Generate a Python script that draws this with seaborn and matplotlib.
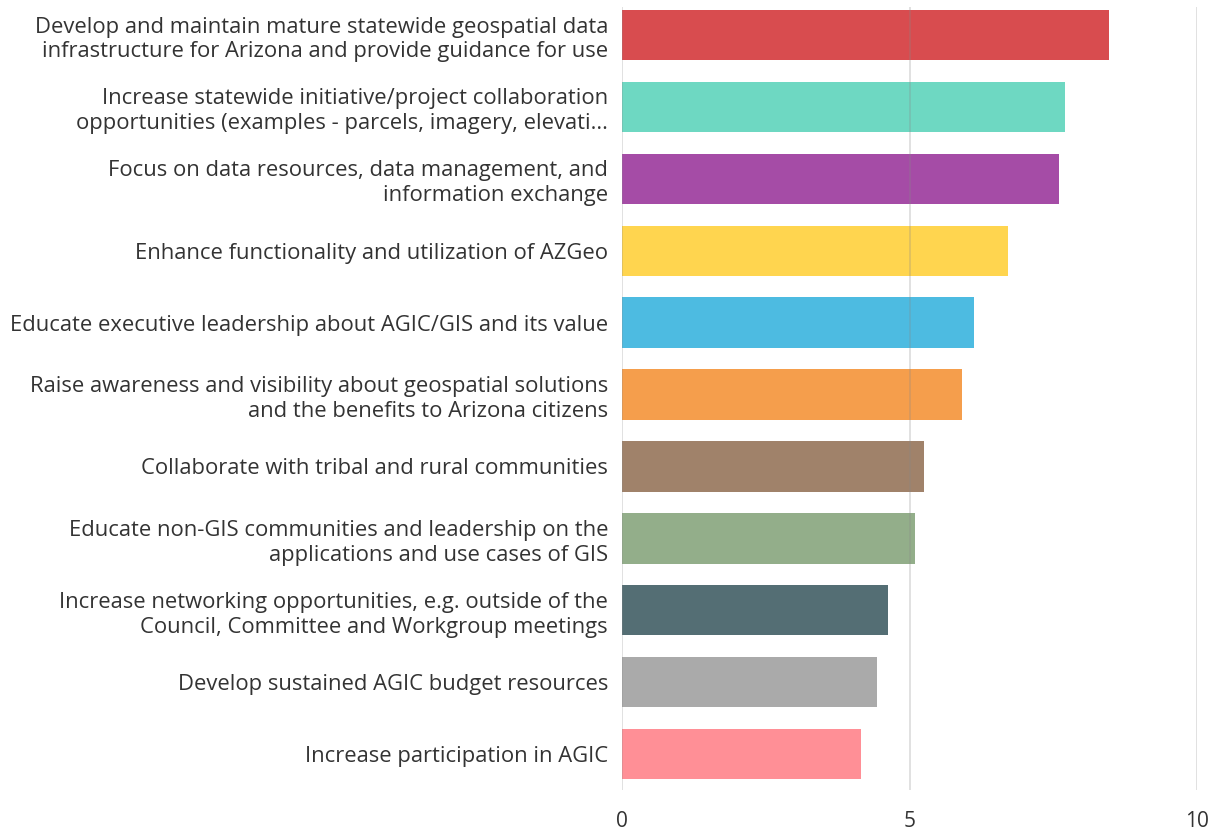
import matplotlib
matplotlib.use("Agg")
import matplotlib.pyplot as plt
import seaborn as sns
import pandas as pd

categories = [
    "Develop and maintain mature statewide geospatial data\ninfrastructure for Arizona and provide guidance for use",
    "Increase statewide initiative/project collaboration\nopportunities (examples - parcels, imagery, elevati...",
    "Focus on data resources, data management, and\ninformation exchange",
    "Enhance functionality and utilization of AZGeo",
    "Educate executive leadership about AGIC/GIS and its value",
    "Raise awareness and visibility about geospatial solutions\nand the benefits to Arizona citizens",
    "Collaborate with tribal and rural communities",
    "Educate non-GIS communities and leadership on the\napplications and use cases of GIS",
    "Increase networking opportunities, e.g. outside of the\nCouncil, Committee and Workgroup meetings",
    "Develop sustained AGIC budget resources",
    "Increase participation in AGIC",
]
values = [8.47, 7.70, 7.60, 6.71, 6.13, 5.92, 5.26, 5.09, 4.63, 4.44, 4.15]
colors = ["#d84c4f", "#6ed8c2", "#a54ca6", "#ffd54f", "#4dbbe1", "#f59e4c",
          "#a0826a", "#93ae8a", "#546e74", "#aaaaaa", "#ff8f96"]
xticks = [0, 5, 10]

df = pd.DataFrame({"category": categories, "value": values})

sns.set_style("white")
plt.rcParams["font.family"] = ["Open Sans", "DejaVu Sans"]

fig = plt.figure(figsize=(12.14, 8.30), dpi=100)
ax = fig.add_axes([622/1214, 1 - 790/830, (1197 - 622)/1214, (790 - 7)/830])

sns.barplot(data=df, y="category", x="value", hue="category",
            palette=colors, legend=False, width=0.7, ax=ax,
            saturation=1, orient="h", edgecolor="none")

ax.set_xlim(0, 10)
ax.set_ylim(10.5, -0.39)
ax.set_xticks(xticks)
ax.set_xticklabels([str(t) for t in xticks], fontsize=15, color="#333333")
ax.tick_params(axis="x", length=0, pad=15)
ax.tick_params(axis="y", length=0, pad=10)
for lbl in ax.get_yticklabels():
    lbl.set_fontsize(15.8)
    lbl.set_color("#333333")
    lbl.set_horizontalalignment("right")
    lbl.set_multialignment("right")
    lbl.set_linespacing(1.24)
ax.set_xlabel("")
ax.set_ylabel("")
for s in ax.spines.values():
    s.set_visible(False)
for t in xticks:
    ax.axvline(t, color="#888888", alpha=0.3, lw=1.2, zorder=5)

fig.savefig("out.png", dpi=100, facecolor="white")
